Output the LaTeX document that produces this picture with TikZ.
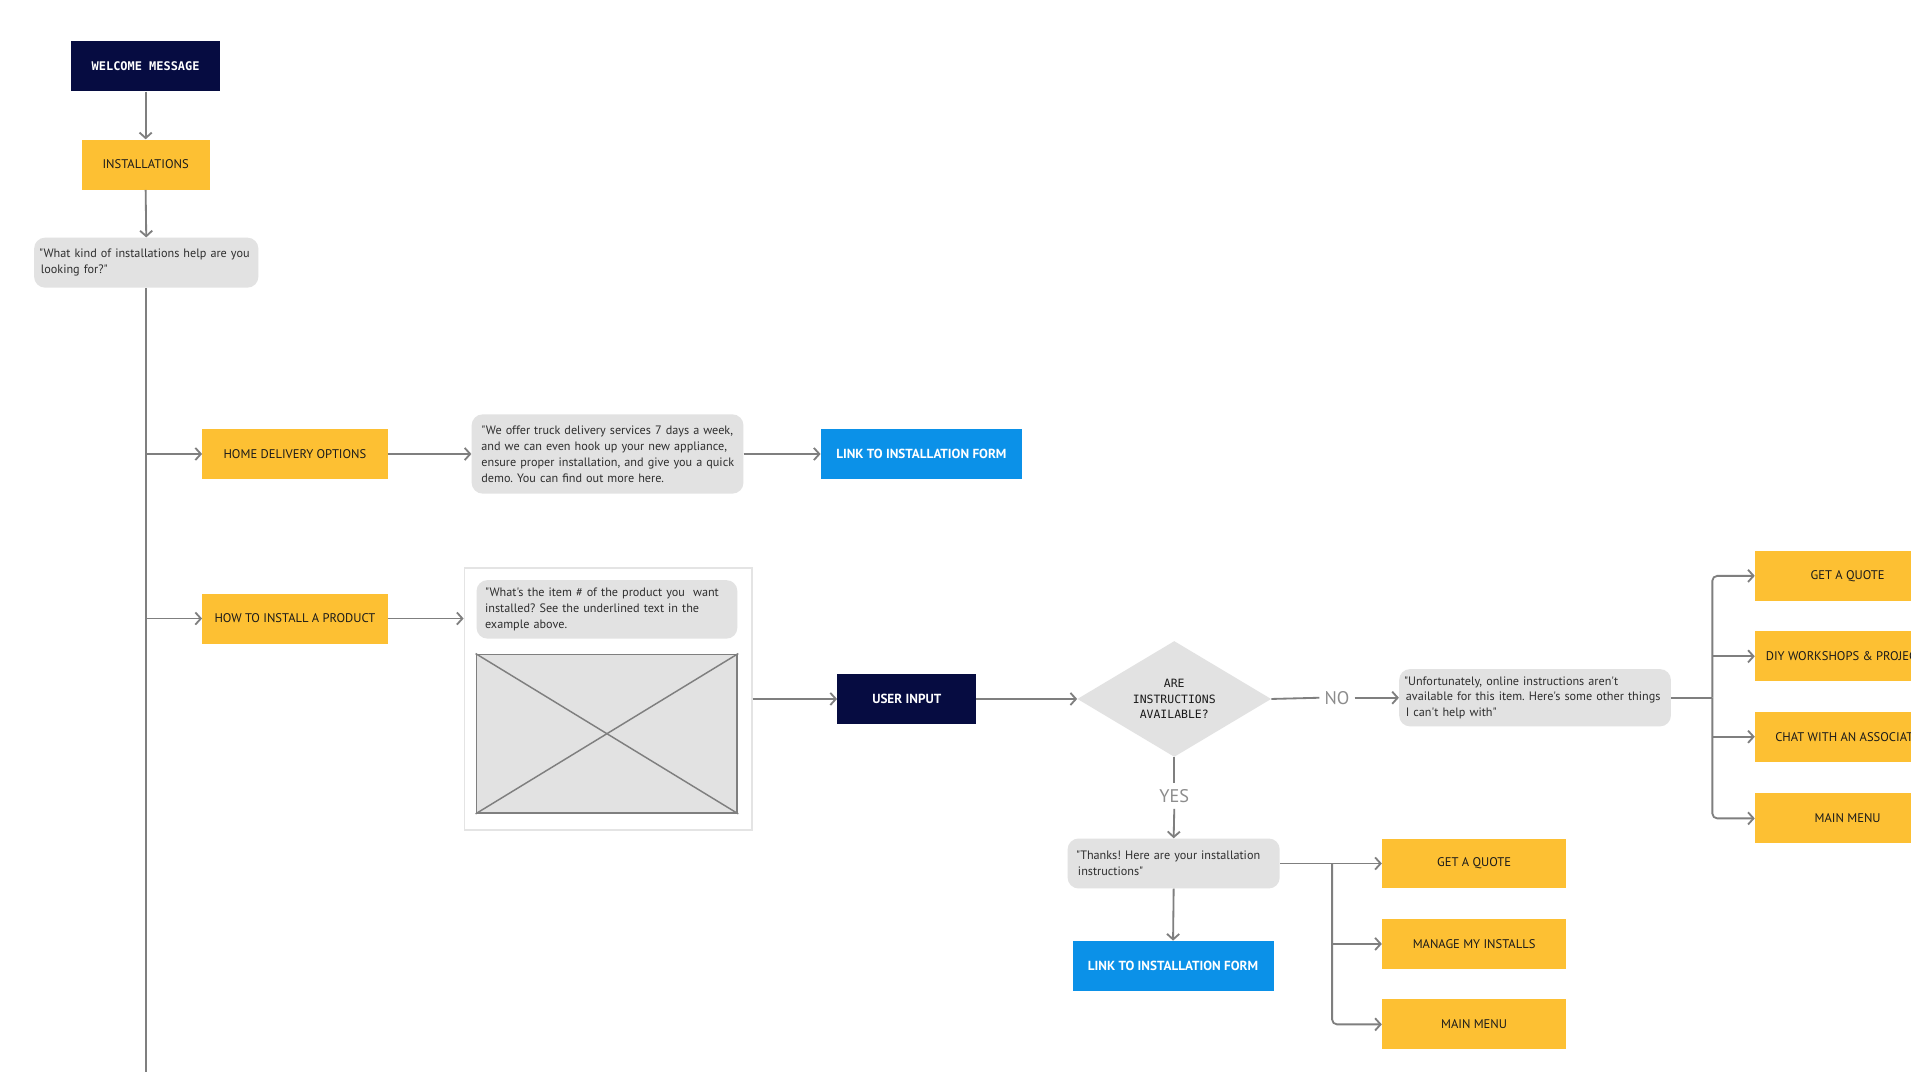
\documentclass[tikz,border=0pt]{standalone}
\usepackage{fontspec}
\setmainfont[Ligatures=TeXOff]{PT Sans}
\newfontfamily\monof{DejaVu Sans Mono}
\usetikzlibrary{arrows.meta,shapes.geometric}
\definecolor{navyc}{HTML}{060C41}
\definecolor{yelc}{HTML}{FDC033}
\definecolor{bluec}{HTML}{0B91E8}
\definecolor{bubc}{HTML}{E2E2E2}
\definecolor{linec}{HTML}{7F7F7F}
\definecolor{txtc}{HTML}{1A1A1A}
\definecolor{bubtxt}{HTML}{2E2E2E}
\definecolor{contc}{HTML}{E4E4E4}
\definecolor{labc}{HTML}{8C8C8C}
\frenchspacing
\begin{document}
\begin{tikzpicture}[x=1pt,y=-1pt,
 ybox/.style={fill=yelc, minimum width=152pt, minimum height=41pt, inner sep=0pt, text=txtc, font=\fontsize{10.3}{12}\selectfont},
 nbox/.style={fill=navyc, text=white, inner sep=0pt, minimum height=41pt},
 bbox/.style={fill=bluec, text=white, inner sep=0pt, minimum width=165pt, minimum height=41pt, font=\bfseries\fontsize{10.8}{12}\selectfont},
 bub/.style={fill=bubc, rounded corners=9pt, text=bubtxt, align=left, inner ysep=0pt, font=\fontsize{10}{13}\selectfont},
 lin/.style={draw=linec, line width=1.5pt},
 conn/.style={lin, -{Straight Barb[length=4.5pt,width=10pt]}},
 lab/.style={text=labc, font=\fontsize{15}{15}\selectfont, inner xsep=4pt, inner ysep=5pt}
]
\useasboundingbox (0,0) rectangle (1568,879);
\fill[white] (0,0) rectangle (1568,879);
\clip (0,0) rectangle (1568,879);

% left column
\node[nbox, minimum width=122pt, font=\monof\bfseries\fontsize{9.8}{11}\selectfont] (wel) at (119.5,54.5) {WELCOME MESSAGE};
\node[ybox, minimum width=105pt] (inst) at (119.5,135) {INSTALLATIONS};
\node[bub, text width=176pt, inner xsep=4pt, minimum height=41pt] (q1) at (120,215.5) {"What kind of installations help are you\\\hspace*{1.5pt}looking for?"};
\coordinate (tend) at (120,885);

\draw[conn] (wel.south) -- (inst.north);
\draw[conn] (inst.south) -- (q1.north);
\draw[lin] (q1.south) -- (tend);

% home delivery row
\node[ybox] (home) at (242,372.5) {HOME DELIVERY OPTIONS};
\node[bub, text width=213pt, inner xsep=5pt, minimum height=65pt] (deliv) at (498.5,372.5) {\hspace*{3pt}"We offer truck delivery services 7 days a week,\\\hspace*{3pt}and we can even hook up your new appliance,\\\hspace*{3pt}ensure proper installation, and give you a quick\\\hspace*{3pt}demo. You can find out more here.};
\node[bbox] (link1) at (756,372.5) {LINK TO INSTALLATION FORM};

\draw[conn] (tend |- home.west) -- (home.west);
\draw[conn] (home.east) -- (deliv.west);
\draw[conn] (deliv.east) -- (link1.west);

% how to install row
\node[ybox] (howto) at (242,507.5) {HOW TO INSTALL A PRODUCT};
\node[draw=contc, line width=1.2pt, fill=white, minimum width=236pt, minimum height=215pt, inner sep=0pt] (cont) at (499,573.5) {};
\node[bub, text width=204pt, inner xsep=5pt, minimum height=48pt] (q2) at (498,500) {\hspace*{2pt}"What's the item \# of the product you\ \ want\\\hspace*{2pt}installed? See the underlined text in the\\\hspace*{2pt}example above.};
\node[draw=linec, line width=1.5pt, fill=bubc, minimum width=214pt, minimum height=130pt, inner sep=0pt] (img) at (498,602) {};
\draw[lin, line width=1.2pt] (img.north west) -- (img.south east);
\draw[lin, line width=1.2pt] (img.north east) -- (img.south west);

\draw[conn] (tend |- howto.west) -- (howto.west);
\draw[conn] (howto.east) -- (howto.east -| cont.west);

\node[nbox, minimum width=114pt, font=\bfseries\fontsize{10.8}{12}\selectfont] (uin) at (744,573.5) {USER INPUT};
\draw[conn] (cont.east) -- (uin.west);

\node[diamond, fill=bubc, aspect=1.67, minimum width=159pt, minimum height=95pt, inner sep=0pt, align=center, text=txtc, font=\monof\fontsize{9.4}{13}\selectfont] (dia) at (963.5,573.5) {ARE\\INSTRUCTIONS\\AVAILABLE?};
\draw[conn] (uin.east) -- (dia.west);

% NO branch
\node[lab] (nolab) at (1097,572.5) {NO};
\node[bub, text width=215pt, inner xsep=4pt, minimum height=47pt] (unf) at (1259.5,572.5) {"Unfortunately, online instructions aren't\\\hspace*{1.5pt}available for this item. Here's some other things\\\hspace*{1.5pt}I can't help with"};
\draw[lin] (dia.east) -- (nolab.west);
\draw[conn] (nolab.east) -- (unf.west);

\node[ybox] (r1) at (1516,472.5) {GET A QUOTE};
\node[ybox] (r2) at (1516,538.5) {DIY WORKSHOPS \& PROJECTS};
\node[ybox] (r3) at (1516,604.5) {CHAT WITH AN ASSOCIATE};
\node[ybox] (r4) at (1516,671.5) {MAIN MENU};
\coordinate (b2) at (1405,572.5);
\draw[lin] (unf.east) -- (b2);
\draw[conn, rounded corners=4pt] (b2) |- (r1.west);
\draw[conn, rounded corners=4pt] (b2) |- (r4.west);
\draw[conn] (b2 |- r2.west) -- (r2.west);
\draw[conn] (b2 |- r3.west) -- (r3.west);

% YES branch
\node[lab] (yeslab) at (963.5,653) {YES};
\node[bub, text width=164pt, inner xsep=5pt, minimum height=41pt] (thanks) at (963,708.5) {\hspace*{2pt}"Thanks! Here are your installation\\\hspace*{3.5pt}instructions"};
\node[bbox] (link2) at (962.5,792.5) {LINK TO INSTALLATION FORM};
\draw[lin] (dia.south) -- (yeslab.north);
\draw[conn] (yeslab.south) -- (thanks.north);
\draw[conn] (thanks.south) -- (link2.north);

\node[ybox, minimum width=151pt] (g1) at (1209.5,708.5) {GET A QUOTE};
\node[ybox, minimum width=151pt] (g2) at (1209.5,774.5) {MANAGE MY INSTALLS};
\node[ybox, minimum width=151pt] (g3) at (1209.5,840.5) {MAIN MENU};
\coordinate (b1) at (1093,708.5);
\draw[conn] (thanks.east) -- (g1.west);
\draw[conn, rounded corners=4pt] (b1) |- (g3.west);
\draw[conn] (b1 |- g2.west) -- (g2.west);
\end{tikzpicture}
\end{document}
